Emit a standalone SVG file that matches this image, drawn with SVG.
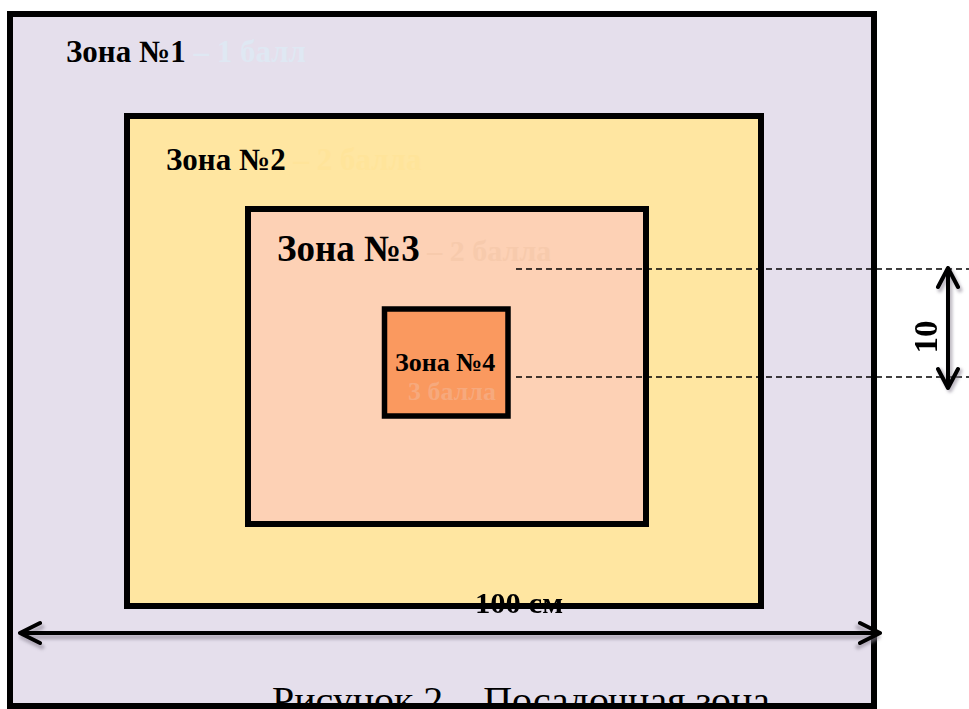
<svg xmlns="http://www.w3.org/2000/svg" width="969" height="709" viewBox="0 0 969 709">
<defs>
<style>
.zone{stroke:#000;stroke-width:6}
.lbl{font-family:"Liberation Serif","Times New Roman",serif;font-weight:bold;fill:#000}
.dash{stroke:#000;stroke-width:1.5;stroke-dasharray:6 4;fill:none}
.arr{stroke:#000;stroke-width:4;fill:none;stroke-linecap:round;stroke-linejoin:round}
.shadow{stroke:#8a8494;stroke-width:5;fill:none;opacity:0.55;stroke-linecap:round;stroke-linejoin:round}
</style>
<filter id="blur" x="-10%" y="-50%" width="120%" height="200%"><feGaussianBlur stdDeviation="1.5"/></filter>
</defs>
<rect width="969" height="709" fill="#ffffff"/>
<g id="zone1">
<rect x="10" y="14" width="864" height="692" fill="#E5DFEC" stroke="none"/>
<text class="lbl" x="66" y="62" font-size="31">Зона №1<tspan style="fill:#DFE8F3"> – 1 балл</tspan></text>
</g>
<g id="zone2">
<rect class="zone" x="127" y="116" width="634" height="490" fill="#FFE6A1"/>
<text class="lbl" x="166" y="170" font-size="31">Зона №2<tspan style="fill:#FFE49A"> – 2 балла</tspan></text>
</g>
<g id="zone3">
<rect class="zone" x="248" y="209" width="398" height="315" fill="#FDD1B5"/>
<text class="lbl" x="277" y="261" font-size="37">Зона №3<tspan font-size="30" style="fill:#F7CAAC"> – 2 балла</tspan></text>
</g>
<g id="zone4">
<rect x="384.5" y="309" width="123.5" height="107" fill="#FA995F" stroke="#000" stroke-width="5.5"/>
<text class="lbl" x="395" y="371" font-size="26">Зона №4</text>
<text class="lbl" x="408" y="400" font-size="26" style="fill:#F6A97D">3 балла</text>
</g>
<g id="caption">
<text x="272" y="713" font-family="'Liberation Serif','Times New Roman',serif" font-size="37" fill="#000" textLength="498" lengthAdjust="spacingAndGlyphs">Рисунок 2 – Посадочная зона</text>
</g>
<rect x="10" y="14" width="864" height="692" fill="none" stroke="#000" stroke-width="6"/>
<g id="connectors">
<line class="dash" x1="516" y1="269" x2="969" y2="269"/>
<line class="dash" x1="516" y1="377" x2="969" y2="377"/>
<g filter="url(#blur)">
<path class="shadow" d="M22 637 H878 M42 627 L22 637 L42 647 M858 627 L878 637 L858 647"/>
<path class="shadow" d="M950 271 V390 M940 290 L950 271 L960 290 M940 371 L950 390 L960 371"/>
</g>
<path class="arr" d="M20 633 H880 M40 623 L20 633 L40 643 M860 623 L880 633 L860 643"/>
<path class="arr" d="M948 268 V388 M938 287 L948 268 L958 287 M938 369 L948 388 L958 369"/>
</g>
<g id="labels">
<text class="lbl" x="475" y="613" font-size="30" textLength="88" lengthAdjust="spacingAndGlyphs">100 см</text>
<text class="lbl" x="0" y="0" font-size="33" text-anchor="middle" transform="translate(937,337) rotate(-90)">10</text>
</g>
</svg>
